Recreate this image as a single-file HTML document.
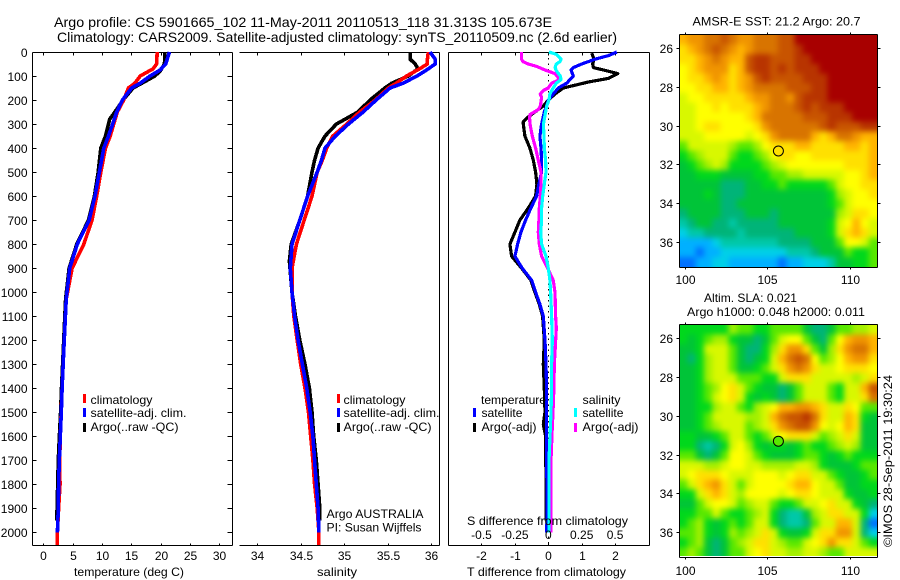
<!DOCTYPE html>
<html>
<head>
<meta charset="utf-8">
<title>Argo profile</title>
<style>
html,body{margin:0;padding:0;background:#fff;}
svg{display:block;font-family:"Liberation Sans",sans-serif;font-size:12px;fill:#000;}
text{fill:#000;}
</style>
</head>
<body>
<svg id="chart" width="900" height="580" viewBox="0 0 900 580" xmlns="http://www.w3.org/2000/svg">
<defs>
<filter id="mapSmooth" filterUnits="userSpaceOnUse" x="640" y="0" width="260" height="580" color-interpolation-filters="sRGB">
<feGaussianBlur stdDeviation="3"/>
</filter>
<clipPath id="sstClip"><rect x="680" y="35" width="198" height="232"/></clipPath>
<clipPath id="slaClip"><rect x="680" y="324" width="198" height="232"/></clipPath>
</defs>
<rect x="0" y="0" width="900" height="580" fill="#fff"/>
<g id="maps"></g>
<g id="axes" shape-rendering="crispEdges"></g>
<g id="lines" shape-rendering="crispEdges"></g>
<g id="labels"></g>
<g id="markers"></g>

<text x="54" y="27" font-size="14" textLength="498" lengthAdjust="spacingAndGlyphs">Argo profile: CS 5901665_102 11-May-2011 20110513_118 31.313S 105.673E</text>
<text x="57" y="42" font-size="14" textLength="560" lengthAdjust="spacingAndGlyphs">Climatology: CARS2009. Satellite-adjusted climatology: synTS_20110509.nc (2.6d earlier)</text>

<text x="74" y="576" textLength="110" lengthAdjust="spacingAndGlyphs">temperature (deg C)</text>
<text x="317" y="576" textLength="40" lengthAdjust="spacingAndGlyphs">salinity</text>
<text x="467" y="576" textLength="159" lengthAdjust="spacingAndGlyphs">T difference from climatology</text>
<text x="467" y="525" textLength="161" lengthAdjust="spacingAndGlyphs">S difference from climatology</text>

<g>
<rect x="83" y="394" width="3" height="9" fill="#f00"/>
<rect x="83" y="408" width="3" height="9" fill="#00f"/>
<rect x="83" y="423" width="3" height="9" fill="#000"/>
<text x="90.5" y="404" textLength="62" lengthAdjust="spacingAndGlyphs">climatology</text>
<text x="90.5" y="417" textLength="96" lengthAdjust="spacingAndGlyphs">satellite-adj. clim.</text>
<text x="90.5" y="431" textLength="88" lengthAdjust="spacingAndGlyphs">Argo(..raw -QC)</text>
</g>

<g>
<rect x="337" y="394" width="3" height="9" fill="#f00"/>
<rect x="337" y="408" width="3" height="9" fill="#00f"/>
<rect x="337" y="423" width="3" height="9" fill="#000"/>
<text x="343.5" y="404" textLength="62" lengthAdjust="spacingAndGlyphs">climatology</text>
<text x="343.5" y="417" textLength="96" lengthAdjust="spacingAndGlyphs">satellite-adj. clim.</text>
<text x="343.5" y="431" textLength="88" lengthAdjust="spacingAndGlyphs">Argo(..raw -QC)</text>
<text x="326.5" y="518" textLength="97" lengthAdjust="spacingAndGlyphs">Argo AUSTRALIA</text>
<text x="326.5" y="531.5" textLength="95" lengthAdjust="spacingAndGlyphs">PI: Susan Wijffels</text>
</g>

<g>
<text x="481" y="404" textLength="65" lengthAdjust="spacingAndGlyphs">temperature</text>
<text x="582.5" y="404" textLength="38" lengthAdjust="spacingAndGlyphs">salinity</text>
<rect x="473" y="408" width="3" height="9" fill="#00f"/>
<rect x="473" y="423" width="3" height="9" fill="#000"/>
<rect x="574" y="408" width="3" height="9" fill="#0ff"/>
<rect x="574" y="423" width="3" height="9" fill="#f0f"/>
<text x="481.5" y="417" textLength="41" lengthAdjust="spacingAndGlyphs">satellite</text>
<text x="481.5" y="431" textLength="55" lengthAdjust="spacingAndGlyphs">Argo(-adj)</text>
<text x="582.5" y="417" textLength="41" lengthAdjust="spacingAndGlyphs">satellite</text>
<text x="582.5" y="431" textLength="56" lengthAdjust="spacingAndGlyphs">Argo(-adj)</text>
</g>

<text x="692.5" y="25.5" textLength="168" lengthAdjust="spacingAndGlyphs">AMSR-E SST: 21.2  Argo: 20.7</text>
<text x="704" y="302" textLength="93" lengthAdjust="spacingAndGlyphs">Altim. SLA: 0.021</text>
<text x="687" y="316" textLength="178" lengthAdjust="spacingAndGlyphs">Argo h1000: 0.048  h2000: 0.011</text>
<text transform="translate(892 547) rotate(-90)" x="0" y="0" textLength="172" lengthAdjust="spacingAndGlyphs">©IMOS 28-Sep-2011 19:30:24</text>
</svg>

<script>
// ---- temperature panel data ----
const tempClimDepth = [0,50,70,100,130,150,200,250,300,350,400,500,600,700,800,900,1030,1240,1400,1500,1600,1700,1800,1900,2000,2053];
const tempClim = [19.4,19.3,18.7,16.5,15.6,14.5,13.7,12.6,12,11.4,10.6,9.8,9.1,8.3,6.9,4.9,3.9,3.5,3.2,3.05,2.9,2.8,2.85,2.6,2.4,2.4];
const tempSatDepth = [0,50,75,100,130,150,200,250,300,350,400,500,600,700,800,900,1030,1240,1400,1500,1600,1700,1800,1900,2000];
const tempSat = [21.5,20.85,19.9,18.2,16.5,15.05,13.5,12.5,11.8,11.1,10.3,9.55,8.8,7.8,5.8,4.5,3.9,3.5,3.2,3.07,2.9,2.73,2.6,2.55,2.4];
const tempArgoDepth = [5,50,80,100,130,150,200,250,280,300,350,400,500,600,700,800,900,1030,1240,1400,1500,1600,1700,1800,1950];
const tempArgo = [20.7,20.65,19.9,19,16.8,15.3,13.6,12.2,11.3,11.1,10.6,9.8,9.35,8.7,7.7,5.7,4.4,3.8,3.4,3.1,2.95,2.75,2.55,2.45,2.3];

// ---- salinity panel data ----
const salClimDepth = [0,30,50,70,100,130,150,200,250,300,350,400,450,500,600,700,800,900,1000,1100,1200,1300,1400,1500,1600,1700,1800,1900,2000,2053];
const salClim = [35.97,35.96,35.96,35.87,35.72,35.6,35.51,35.36,35.18,35.03,34.87,34.8,34.75,34.69,34.63,34.54,34.45,34.4,34.4,34.42,34.46,34.5,34.55,34.59,34.615,34.64,34.66,34.69,34.71,34.71];
const salSatDepth = [0,30,50,75,100,130,150,200,250,300,350,400,450,500,600,700,800,900,1000,1100,1200,1300,1400,1500,1600,1700,1800,1900,2000];
const salSat = [35.99,36.05,36.05,35.95,35.84,35.68,35.53,35.37,35.22,35.05,34.9,34.78,34.74,34.69,34.58,34.49,34.4,34.38,34.4,34.43,34.47,34.52,34.57,34.61,34.64,34.66,34.68,34.7,34.71];
const salArgoDepth = [0,30,50,70,100,130,150,200,250,300,350,400,450,500,600,700,800,870,1000,1100,1200,1300,1400,1500,1600,1700,1800,1900,1950];
const salArgo = [35.76,35.76,35.82,35.85,35.74,35.55,35.47,35.3,35.16,34.91,34.78,34.7,34.66,34.63,34.58,34.49,34.39,34.37,34.4,34.44,34.49,34.55,34.6,34.63,34.65,34.68,34.7,34.72,34.72];

// ---- difference panel data ----
const dTSatDepth = [0,15,30,50,65,75,100,115,130,150,175,200,225,250,300,350,400,450,500,550,600,650,700,750,800,850,900,950,1000,1050,1100,1200,1300,1400,1500,1700,1900,2000];
const dTSat = [2.05,1.8,1.4,1,0.75,0.68,0.75,0.65,0.55,0.3,0.15,0,-0.05,-0.12,-0.2,-0.25,-0.22,-0.2,-0.2,-0.28,-0.35,-0.52,-0.68,-0.82,-0.92,-1,-0.78,-0.5,-0.38,-0.25,-0.15,-0.1,-0.07,-0.05,-0.05,-0.05,-0.03,-0.05];
const dTArgoDepth = [5,30,50,65,75,90,110,125,150,175,200,225,250,270,290,300,350,400,450,500,550,600,650,700,750,800,850,900,950,1000,1050,1100,1200,1300,1400,1500,1550,1600,1950];
const dTArgo = [1.3,1.37,1.33,1.35,1.65,2.08,1.8,1.2,0.45,0.2,0,-0.15,-0.4,-0.6,-0.75,-0.75,-0.7,-0.55,-0.45,-0.38,-0.34,-0.38,-0.6,-0.85,-1,-1.15,-1.1,-0.8,-0.52,-0.4,-0.27,-0.17,-0.12,-0.15,-0.12,-0.1,-0.15,-0.08,-0.06];
const dSSatDepth = [0,10,30,40,50,65,80,100,115,130,150,175,200,225,250,300,350,400,450,500,550,600,650,700,750,800,850,900,950,1000,1100,1200,1300,1400,1500,1700,1900,2000];
const dSSat = [0.005,0.06,0.095,0.087,0.06,0.05,0.062,0.09,0.095,0.06,0.037,0.012,0.005,-0.012,-0.02,-0.037,-0.032,-0.03,-0.02,-0.017,-0.03,-0.042,-0.05,-0.05,-0.057,-0.05,-0.017,0,0.012,0.017,0.025,0.03,0.025,0.025,0.02,0.005,0.005,0.005];
const dSArgoDepth = [0,30,40,50,60,75,90,115,130,150,160,175,190,225,240,260,275,300,350,400,450,500,550,600,650,700,750,800,850,900,950,1000,1100,1150,1250,1300,1400,1500,1600,1700,1900,2000];
const dSArgo = [-0.2,-0.2,-0.19,-0.15,-0.087,-0.025,0.05,0.087,0.025,0,-0.037,-0.06,-0.05,-0.06,-0.075,-0.137,-0.14,-0.137,-0.12,-0.095,-0.075,-0.055,-0.055,-0.06,-0.067,-0.07,-0.075,-0.067,-0.05,-0.005,0.037,0.05,0.055,0.06,0.05,0.045,0.042,0.035,0.027,0.02,0.02,0.02];

// ---- tick labels ----
const depthTicks = [0,100,200,300,400,500,600,700,800,900,1000,1100,1200,1300,1400,1500,1600,1700,1800,1900,2000];
const tempTicks = [0,5,10,15,20,25,30];
const salTicks = [34,34.5,35,35.5,36];
const dTTicks = [-2,-1,0,1,2];
const dSTicks = [-0.5,-0.25,0,0.25,0.5];
const latTicks = [26,28,30,32,34,36];
const lonTicks = [100,105,110];

// ---- float position ----
const floatLon = [105.673];
const floatLat = [31.313];

// ---- map colour levels (0 = coldest/lowest, 18 = warmest/highest) ----
const levelColors = ["#0a3cc8","#0070ff","#00b0ff","#00d0e8","#00c8a8","#00b478","#00c438","#00d81c","#58e800","#a4f000","#d8f800","#ffff00","#ffe000","#ffb400","#f09400","#d87400","#c85400","#b83400","#a80000"];

// ---- SST map (0.5 degree grid, rows north to south) ----
const sstLevels = [
[13,14,14,15,15,16,15,14,14,15,15,15,16,16,18,18,18,18,18,18,18,18,18,18],
[12,13,14,15,16,15,14,13,14,15,15,15,16,16,17,18,18,18,18,18,18,18,18,18],
[12,12,13,14,15,14,13,13,16,17,17,16,16,16,17,17,18,18,18,18,18,18,18,18],
[11,12,13,14,14,14,12,13,16,17,17,16,17,16,17,17,17,18,18,18,18,18,18,18],
[11,12,12,13,14,13,12,13,14,16,17,16,16,16,16,17,17,17,18,18,18,18,18,18],
[11,11,12,12,13,13,12,13,14,15,15,15,15,16,16,16,17,17,18,18,18,18,18,18],
[10,11,11,12,12,12,12,12,13,14,14,15,15,14,16,17,17,17,18,18,18,18,18,18],
[10,10,11,11,12,11,12,12,12,13,14,15,15,15,16,17,16,17,17,17,18,18,18,18],
[10,10,11,11,11,11,11,11,12,13,15,15,15,15,15,16,16,16,17,17,17,18,18,18],
[10,10,11,12,12,11,11,11,11,12,14,15,15,15,15,15,15,16,17,16,16,16,17,17],
[10,10,10,11,11,11,11,11,10,11,12,14,15,15,15,15,13,12,13,15,15,14,13,13],
[8,10,10,10,10,10,9,8,8,9,11,12,12,12,13,13,12,12,12,12,13,13,12,13],
[7,8,9,10,10,10,8,7,7,8,9,11,12,12,11,11,12,12,12,12,12,12,12,13],
[6,7,8,9,10,9,7,7,7,7,8,9,10,11,11,11,11,11,11,11,12,12,12,13],
[6,6,7,7,7,6,6,6,6,7,7,8,8,9,9,10,10,10,10,10,11,11,12,13],
[6,6,6,6,6,5,5,5,6,6,7,7,8,7,7,7,7,7,8,10,11,11,12,12],
[6,6,6,7,6,5,5,5,6,6,6,6,6,6,6,6,6,6,7,9,10,11,11,12],
[6,6,6,6,6,5,5,6,6,6,6,6,6,6,6,6,6,6,7,8,10,11,11,11],
[5,6,6,6,6,5,5,5,6,6,6,5,6,6,6,6,6,6,6,9,10,12,12,11],
[4,5,6,6,5,5,4,5,5,5,5,5,6,6,6,6,6,6,7,10,11,13,11,10],
[3,4,4,5,5,5,5,4,5,5,5,5,5,5,6,6,6,6,7,10,12,13,12,10],
[2,2,2,2,3,4,4,4,4,4,4,4,5,5,5,5,6,6,6,8,11,11,10,8],
[2,2,1,2,2,3,3,3,3,3,3,3,3,4,4,4,5,6,6,6,8,7,7,8],
[1,1,2,2,3,3,2,2,2,2,2,2,1,2,2,3,3,3,4,6,6,7,7,8]
];

// ---- SLA map (0.5 degree grid, rows north to south) ----
const slaLevels = [
[7,7,7,7,7,7,9,8,8,7,7,8,8,8,8,6,5,5,6,8,8,9,9,10],
[7,6,7,8,9,9,7,6,6,5,6,8,10,11,11,8,6,5,8,11,13,14,14,13],
[6,6,7,10,10,10,8,6,5,5,7,9,12,14,14,12,8,6,9,12,14,15,15,13],
[6,5,7,9,10,10,8,6,5,6,7,10,13,15,16,15,11,8,9,11,13,14,14,12],
[6,6,7,9,10,10,8,6,6,7,8,10,12,14,15,14,12,10,10,11,12,12,12,11],
[6,6,7,9,10,10,10,8,8,8,7,7,10,12,12,12,10,10,10,10,10,9,10,12],
[6,6,7,8,9,11,12,10,8,7,6,6,5,6,8,10,10,10,8,7,10,10,13,16],
[6,6,7,8,10,11,12,10,7,6,7,6,5,6,8,10,10,10,8,7,10,10,12,15],
[6,6,7,7,9,10,10,8,7,9,10,11,13,13,14,14,13,12,10,10,12,11,8,8],
[6,6,7,8,10,10,10,10,9,9,10,13,15,16,16,17,15,12,10,10,13,12,7,6],
[6,6,7,8,9,10,10,10,8,9,10,12,14,15,16,16,14,11,10,11,13,12,6,6],
[7,7,6,6,7,8,10,10,8,7,8,10,11,12,12,12,10,8,9,10,12,10,6,6],
[7,7,5,4,5,7,10,11,9,7,6,7,7,6,7,8,7,7,8,9,10,9,6,6],
[8,8,6,5,6,8,11,11,10,8,7,6,6,6,7,8,8,7,6,7,8,7,7,7],
[10,10,10,9,9,10,11,11,10,10,9,9,9,9,10,10,9,7,6,6,6,7,8,8],
[10,11,12,12,12,11,10,10,10,11,11,11,10,11,12,12,10,10,8,7,6,6,7,8],
[8,10,12,13,14,12,10,8,10,11,11,11,11,12,13,13,11,10,10,8,6,6,7,7],
[7,7,10,12,13,12,10,9,11,11,11,11,10,11,12,12,11,10,10,10,7,6,6,7],
[6,6,8,10,11,11,10,8,9,10,10,8,7,7,8,10,10,11,12,10,10,7,6,5],
[7,7,8,8,10,8,7,7,8,9,10,7,5,4,4,6,9,10,12,12,10,10,7,3],
[7,8,9,7,6,7,8,7,8,10,10,7,5,4,4,5,8,10,10,13,13,10,5,1],
[8,8,9,7,6,7,9,8,9,10,12,10,7,6,6,7,10,12,12,14,14,10,5,3],
[7,8,9,6,5,6,8,9,10,12,12,10,9,8,8,10,11,12,14,12,12,10,8,7],
[8,9,8,6,5,6,8,8,10,11,12,10,10,9,9,10,10,9,8,8,10,10,10,10]
];

const NS = "http://www.w3.org/2000/svg";
const axesLayer = document.getElementById("axes");
const linesLayer = document.getElementById("lines");
const labelLayer = document.getElementById("labels");
const mapLayer = document.getElementById("maps");
const markerLayer = document.getElementById("markers");

// axis functions
const yDepth = d => 52 + 0.2402 * d;
const xTemp = t => 43.3 + 5.87 * t;
const xSal = s => 257.3 + 86.8 * (s - 34);
const xDT = t => 548.3 + 33.4 * t;
const xDS = s => 548.3 + 133.6 * s;
const xLon = lon => 685 + 16.47 * (lon - 100);
const ySst = lat => 48.3 + 19.33 * (lat - 26);
const ySla = lat => 338.3 + 19.37 * (lat - 26);

function make(tag, attrs, parent) {
  const el = document.createElementNS(NS, tag);
  for (const k in attrs) el.setAttribute(k, attrs[k]);
  parent.appendChild(el);
  return el;
}

function seg(x1, y1, x2, y2, name) {
  const el = make("line", {x1: x1, y1: y1, x2: x2, y2: y2, stroke: "#000", "stroke-width": 1}, axesLayer);
  
  
  return el;
}

function label(x, y, str, anchor, name) {
  const el = make("text", {x: x, y: y, "text-anchor": anchor}, labelLayer);
  el.textContent = str;
  
  
  return el;
}

function profile(depths, values, xf, color, width, name) {
  let d = "";
  for (let i = 0; i < depths.length; i++) {
    d += (i ? "L" : "M") + xf(values[i]).toFixed(1) + " " + yDepth(depths[i]).toFixed(1);
  }
  const el = make("path", {d: d, fill: "none", stroke: color, "stroke-width": width, "stroke-linejoin": "round"}, linesLayer);
  
  
}

const P1 = {l: 32.5, r: 232.5, t: 52.5, b: 545.5};
const P2 = {l: 239.5, r: 439.5, t: 52.5, b: 545.5};
const P3 = {l: 448.5, r: 649.5, t: 52.5, b: 545.5};

// panel frames
seg(P1.l, P1.t, P1.r, P1.t, 'temperature-panel-top-border');
seg(P1.l, P1.b, P1.r, P1.b, 'temperature-panel-bottom-border');
seg(P1.l, P1.t, P1.l, P1.b, 'temperature-panel-left-border');
seg(P1.r, P1.t, P1.r, P1.b, 'temperature-panel-right-border');
seg(P2.l, P2.t, P2.r, P2.t, 'salinity-panel-top-border');
seg(P2.l, P2.b, P2.r, P2.b, 'salinity-panel-bottom-border');
seg(P2.r, P2.t, P2.r, P2.b, 'salinity-panel-right-border');
seg(P3.l, P3.t, P3.r, P3.t, 'difference-panel-top-border');
seg(P3.l, P3.b, P3.r, P3.b, 'difference-panel-bottom-border');
seg(P3.l, P3.t, P3.l, P3.b, 'difference-panel-left-border');
seg(P3.r, P3.t, P3.r, P3.b, 'difference-panel-right-border');

// zero reference line
const zeroLine = seg(xDT(0) + 0.2, P3.t, xDT(0) + 0.2, P3.b, 'zero-difference-line');
zeroLine.setAttribute('stroke-dasharray', '1.5 4');

// depth ticks and labels
depthTicks.forEach(d => {
  const y = Math.round(yDepth(d)) + 0.5;
  seg(P1.l, y, P1.l + 4, y, 'depth-tick-left');
  seg(P1.r - 5, y, P1.r, y, 'depth-tick-right');
  label(27.5, y + 4.5, String(d), "end", 'depth-tick-label');
});

function xTicks(values, xf, panel, y, prefix) {
  values.forEach(v => {
    const x = Math.round(xf(v)) + 0.5;
    seg(x, panel.t, x, panel.t + 3, prefix + '-tick-top');
    seg(x, panel.b - 2, x, panel.b, prefix + '-tick-bottom');
    label(x, y, String(v), "middle", prefix + '-tick-label');
  });
}
xTicks(tempTicks, xTemp, P1, 560, 'temperature');
xTicks(salTicks, xSal, P2, 560, 'salinity');
xTicks(dTTicks, xDT, P3, 560, 't-difference');
dSTicks.forEach(v => {
  const s = String(v);
  label(xDS(v), 539, s, "middle", 's-difference-tick-label');
});

// temperature profiles
profile(tempArgoDepth, tempArgo, xTemp, "#000", 3.6, 'temperature-argo-line');
profile(tempClimDepth, tempClim, xTemp, "#f00", 3.6, 'temperature-climatology-line');
profile(tempSatDepth, tempSat, xTemp, "#00f", 3.6, 'temperature-satellite-line');

// salinity profiles
profile(salArgoDepth, salArgo, xSal, "#000", 3.6, 'salinity-argo-line');
profile(salClimDepth, salClim, xSal, "#f00", 3.6, 'salinity-climatology-line');
profile(salSatDepth, salSat, xSal, "#00f", 3.6, 'salinity-satellite-line');

// difference profiles
profile(dTArgoDepth, dTArgo, xDT, "#000", 3.2, 't-difference-argo-line');
profile(dTSatDepth, dTSat, xDT, "#00f", 3.2, 't-difference-satellite-line');
profile(dSArgoDepth, dSArgo, xDS, "#f0f", 3.2, 's-difference-argo-line');
profile(dSSatDepth, dSSat, xDS, "#0ff", 3.2, 's-difference-satellite-line');

// maps
function drawMap(levels, yf, prefix, pointColor, labelY, clipId) {
  const lon0 = 99.65, lat0 = 25.3, step = 0.5, bleed = 14;
  const clip = make("g", {"clip-path": "url(#" + clipId + ")"}, mapLayer);
  
  
  const smooth = make("g", {filter: "url(#mapSmooth)"}, clip);
  
  
  const nRows = levels.length;
  levels.forEach((row, r) => {
    row.forEach((lv, c) => {
      // outer cells bleed past the clip so the smoothing stays solid at the edges
      const x1 = xLon(lon0 + c * step) - (c === 0 ? bleed : 0);
      const x2 = xLon(lon0 + (c + 1) * step) + (c === row.length - 1 ? bleed : 0);
      const y1 = yf(lat0 + r * step) - (r === 0 ? bleed : 0);
      const y2 = yf(lat0 + (r + 1) * step) + (r === nRows - 1 ? bleed : 0);
      const cell = make("rect", {x: x1.toFixed(2), y: y1.toFixed(2), width: (x2 - x1 + 0.4).toFixed(2), height: (y2 - y1 + 0.4).toFixed(2), fill: levelColors[lv]}, smooth);
      
      
    });
  });
  const L = 679.5, R = 877.5, T = Math.round(yf(lat0)) - 0.5, B = Math.round(yf(lat0 + 12)) + 0.5;
  seg(L, T, R, T, prefix + '-map-top-border');
  seg(L, B, R, B, prefix + '-map-bottom-border');
  seg(L, T, L, B, prefix + '-map-left-border');
  seg(R, T, R, B, prefix + '-map-right-border');
  latTicks.forEach(lat => {
    const y = Math.round(yf(lat)) + 0.5;
    seg(L - 3, y, L, y, prefix + '-lat-tick-left');
    seg(R, y, R + 3, y, prefix + '-lat-tick-right');
    label(673, y + 4.5, String(lat), "end", prefix + '-lat-tick-label');
  });
  lonTicks.forEach(lon => {
    const x = Math.round(xLon(lon)) + 0.5;
    seg(x, T - 2, x, T, prefix + '-lon-tick-top');
    seg(x, B, x, B + 2, prefix + '-lon-tick-bottom');
    label(x, labelY, String(lon), "middle", prefix + '-lon-tick-label');
  });
  const dot = make("circle", {cx: xLon(floatLon[0]).toFixed(1), cy: yf(floatLat[0]).toFixed(1), r: 5, fill: pointColor, stroke: "#000", "stroke-width": 1}, markerLayer);
  
  
}
drawMap(sstLevels, ySst, 'sst', levelColors[12], 284, 'sstClip');
drawMap(slaLevels, ySla, 'sla', levelColors[8], 575, 'slaClip');
</script>
</body>
</html>
